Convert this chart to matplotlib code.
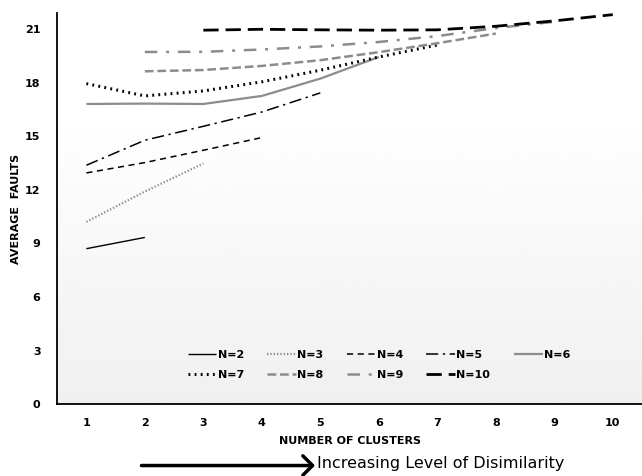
import numpy as np
import matplotlib
matplotlib.use('Agg')
import matplotlib.pyplot as plt

# average faults per number of clusters, one series per N
clusters = {
    'N=2': [1, 2],
    'N=3': [1, 2, 3],
    'N=4': [1, 2, 3, 4],
    'N=5': [1, 2, 3, 4, 5],
    'N=6': [1, 2, 3, 4, 5, 6],
    'N=7': [1, 2, 3, 4, 5, 6, 7],
    'N=8': [2, 3, 4, 5, 6, 7, 8],
    'N=9': [2, 3, 4, 5, 6, 7, 8, 9],
    'N=10': [3, 4, 5, 6, 7, 8, 9, 10],
}
faults = {
    'N=2': [8.7, 9.33],
    'N=3': [10.2, 11.9, 13.47],
    'N=4': [12.94, 13.52, 14.21, 14.92],
    'N=5': [13.37, 14.77, 15.55, 16.35, 17.42],
    'N=6': [16.8, 16.82, 16.8, 17.25, 18.22, 19.43],
    'N=7': [17.94, 17.25, 17.53, 18.04, 18.69, 19.43, 20.1],
    'N=8': [18.63, 18.7, 18.93, 19.25, 19.7, 20.2, 20.74],
    'N=9': [19.71, 19.72, 19.85, 20.02, 20.27, 20.6, 21.05, 21.4],
    'N=10': [20.93, 20.98, 20.95, 20.93, 20.95, 21.15, 21.45, 21.8],
}
xticks = list(range(1, 11))
yticks = list(range(0, 22, 3))

styles = {
    'N=2': dict(color='black', lw=1.0, ls='-'),
    'N=3': dict(color='#8c8c8c', lw=1.6, ls=(0, (0.6, 0.9))),
    'N=4': dict(color='black', lw=1.1, ls=(0, (4, 3))),
    'N=5': dict(color='black', lw=1.1, ls=(0, (8, 3, 1.5, 3))),
    'N=6': dict(color='#8c8c8c', lw=1.6, ls='-'),
    'N=7': dict(color='black', lw=2.2, ls=(0, (0.6, 1.4))),
    'N=8': dict(color='#8c8c8c', lw=1.8, ls=(0, (3.5, 1.5))),
    'N=9': dict(color='#8c8c8c', lw=1.8, ls=(0, (5, 3.5, 1.2, 3.5))),
    'N=10': dict(color='black', lw=2.0, ls=(0, (5.5, 2.5))),
}

fig = plt.figure(figsize=(6.42, 4.76), dpi=100)
ax = fig.add_axes([0.089, 0.151, 0.911, 0.822])

# gradient background: white at top, light grey at the bottom
grad = np.concatenate([np.linspace(1.0, 1.0, 75), np.linspace(1.0, 0.94, 225)])
grad = np.tile(grad[:, None], (1, 2))
ax.imshow(grad, cmap='gray', vmin=0, vmax=1, aspect='auto',
          extent=[0.5, 10.5, 0, 21.9], origin='upper', zorder=0)

lines = {}
for name in clusters:
    lines[name], = ax.plot(clusters[name], faults[name], label=name, zorder=2,
                           solid_capstyle='butt', dash_capstyle='butt', **styles[name])

ax.set_xlim(0.5, 10.5)
ax.set_ylim(0, 21.9)
ax.set_xticks(xticks)
ax.set_yticks(yticks)
ax.tick_params(length=0, labelsize=8)
ax.tick_params(axis='x', pad=10)
ax.tick_params(axis='y', pad=12)
for lab in ax.get_xticklabels() + ax.get_yticklabels():
    lab.set_fontweight('bold')
for s in ['top', 'right']:
    ax.spines[s].set_visible(False)
ax.spines['left'].set_linewidth(1.3)
ax.spines['bottom'].set_linewidth(1.3)

ax.set_xlabel('NUMBER OF CLUSTERS', fontsize=8, fontweight='bold', labelpad=6)
ax.set_ylabel('AVERAGE  FAULTS', fontsize=8, fontweight='bold', labelpad=3)

# legend filled column by column, so order gives rows N=2..6 and N=7..10
order = ['N=2', 'N=7', 'N=3', 'N=8', 'N=4', 'N=9', 'N=5', 'N=10', 'N=6']
ax.legend([lines[n] for n in order], order, ncol=5, loc='center',
          bbox_to_anchor=(0.55, 0.1), frameon=False,
          prop=dict(size=8, weight='bold'), handlelength=2.6,
          handletextpad=0.1, columnspacing=2.1, labelspacing=0.9)

fig.text(0.493, 0.027, 'Increasing Level of Disimilarity', fontsize=11.5,
         ha='left', va='center')
fig.patches.append(matplotlib.patches.FancyArrowPatch(
    (0.216, 0.022), (0.495, 0.022), transform=fig.transFigure,
    arrowstyle='->,head_length=0.35,head_width=0.35', lw=2.5,
    color='black', mutation_scale=20))

fig.savefig('out.png', dpi=100)
